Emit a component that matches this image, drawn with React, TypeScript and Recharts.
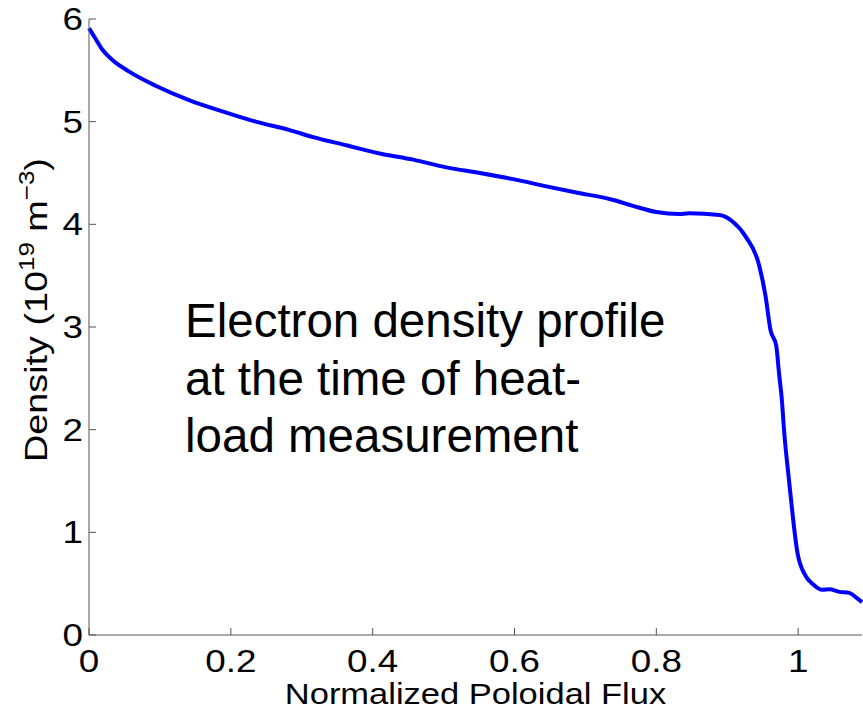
import React from "react";
import { LineChart, Line, XAxis, YAxis, Label } from "recharts";

// normalized poloidal flux (x) and electron density in 1e19 m^-3 (y)
const flux = [
  0, 0.009, 0.019, 0.033, 0.056, 0.094, 0.141, 0.188, 0.235, 0.282, 0.316, 0.363,
  0.41, 0.457, 0.504, 0.551, 0.598, 0.645, 0.687, 0.738, 0.767, 0.8, 0.832, 0.846,
  0.889, 0.907, 0.926, 0.945, 0.954, 0.961, 0.969, 0.973, 0.977, 0.98, 0.987, 0.993,
  0.999, 1.011, 1.02, 1.034, 1.044, 1.058, 1.072, 1.081, 1.09,
];
const density = [
  5.91, 5.81, 5.7, 5.6, 5.49, 5.35, 5.21, 5.1, 5.0, 4.92, 4.85, 4.77,
  4.69, 4.63, 4.555, 4.5, 4.44, 4.37, 4.31, 4.24, 4.18, 4.12, 4.1, 4.107,
  4.09, 4.03, 3.88, 3.6, 3.3, 2.97, 2.82, 2.55, 2.29, 2.0, 1.51, 1.12,
  0.8, 0.57, 0.5, 0.44, 0.445, 0.42, 0.41, 0.37, 0.32,
];
const xTicks = [0, 0.2, 0.4, 0.6, 0.8, 1];
const yTicks = [0, 1, 2, 3, 4, 5, 6];
const note = ["Electron density profile", "at the time of heat-", "load measurement"];

const data = flux.map((f, i) => ({ flux: f, density: density[i] }));

const FONT = "'Liberation Sans', Arial, Helvetica, sans-serif";
const AXIS = "#555555";
const TICK_LEN = 7;

// the matlab figure text is a bit wider than plain arial, so stretch it
const BottomTick = (props: any) => {
  const { x, y, payload } = props;
  return (
    <g>
      <line x1={x} y1={y} x2={x} y2={y - TICK_LEN} stroke={AXIS} strokeWidth={1} />
      <text
        transform={`translate(${x}, ${y + 37}) scale(1.15, 1)`}
        textAnchor="middle"
        fontFamily={FONT}
        fontSize={32}
        fill="#000"
      >
        {String(payload.value)}
      </text>
    </g>
  );
};

const TopTick = (props: any) => {
  const { x, y } = props;
  return <line x1={x} y1={y} x2={x} y2={y + TICK_LEN} stroke={AXIS} strokeWidth={1} />;
};

const LeftTick = (props: any) => {
  const { x, y, payload } = props;
  return (
    <g>
      <line x1={x} y1={y} x2={x + TICK_LEN} y2={y} stroke={AXIS} strokeWidth={1} />
      <text
        transform={`translate(${x - 6}, ${y + 11}) scale(1.15, 1)`}
        textAnchor="end"
        fontFamily={FONT}
        fontSize={32}
        fill="#000"
      >
        {String(payload.value)}
      </text>
    </g>
  );
};

const RightTick = (props: any) => {
  const { x, y } = props;
  return <line x1={x} y1={y} x2={x - TICK_LEN} y2={y} stroke={AXIS} strokeWidth={1} />;
};

const YTitle = () => {
  const cx = 47;
  const cy = 310;
  return (
    <text
      transform={`translate(${cx}, ${cy}) rotate(-90) scale(1.18, 1)`}
      textAnchor="middle"
      fontFamily={FONT}
      fontSize={32}
      fill="#000"
    >
      Density (10
      <tspan dy={-13} fontSize={22}>19</tspan>
      <tspan dy={13}> m</tspan>
      <tspan dy={-13} fontSize={22}>−3</tspan>
      <tspan dy={13}>)</tspan>
    </text>
  );
};

const XTitle = (props: any) => {
  const { viewBox } = props;
  return (
    <text
      transform={`translate(${viewBox.x + viewBox.width / 2}, 704) scale(1.15, 1)`}
      textAnchor="middle"
      fontFamily={FONT}
      fontSize={30}
      fill="#000"
    >
      Normalized Poloidal Flux
    </text>
  );
};

export default function App() {
  return (
    <div style={{ position: "absolute", left: 0, top: 0, width: 863, height: 710, background: "#fff" }}>
      <LineChart
        width={863}
        height={710}
        data={data}
        margin={{ top: 19, right: 1, bottom: 0, left: 0 }}
      >
        <XAxis
          dataKey="flux"
          type="number"
          domain={[0, 1.09]}
          ticks={xTicks}
          height={75}
          stroke={AXIS}
          tickLine={false}
          tickSize={0}
          tickMargin={0}
          tick={<BottomTick />}
          interval={0}
        >
          <Label content={<XTitle />} />
        </XAxis>
        <XAxis
          xAxisId="top"
          orientation="top"
          dataKey="flux"
          type="number"
          domain={[0, 1.09]}
          ticks={xTicks}
          height={0}
          stroke={AXIS}
          tickLine={false}
          tickSize={0}
          tickMargin={0}
          tick={<TopTick />}
          interval={0}
        />
        <YAxis
          type="number"
          domain={[0, 6]}
          ticks={yTicks}
          width={89}
          stroke={AXIS}
          tickLine={false}
          tickSize={0}
          tickMargin={0}
          tick={<LeftTick />}
          interval={0}
        >
          <Label content={<YTitle />} />
        </YAxis>
        <YAxis
          yAxisId="right"
          orientation="right"
          type="number"
          domain={[0, 6]}
          ticks={yTicks}
          width={0}
          stroke={AXIS}
          tickLine={false}
          tickSize={0}
          tickMargin={0}
          tick={<RightTick />}
          interval={0}
        />
        <Line
          type="monotone"
          dataKey="density"
          stroke="#0000ff"
          strokeWidth={4}
          dot={false}
          isAnimationActive={false}
        />
      </LineChart>
      <div
        style={{
          position: "absolute",
          left: 185,
          top: 292,
          fontFamily: FONT,
          fontSize: 47.5,
          lineHeight: "57.5px",
          color: "#000",
          whiteSpace: "nowrap",
        }}
      >
        {note.map((l) => (
          <div key={l}>{l}</div>
        ))}
      </div>
    </div>
  );
}
